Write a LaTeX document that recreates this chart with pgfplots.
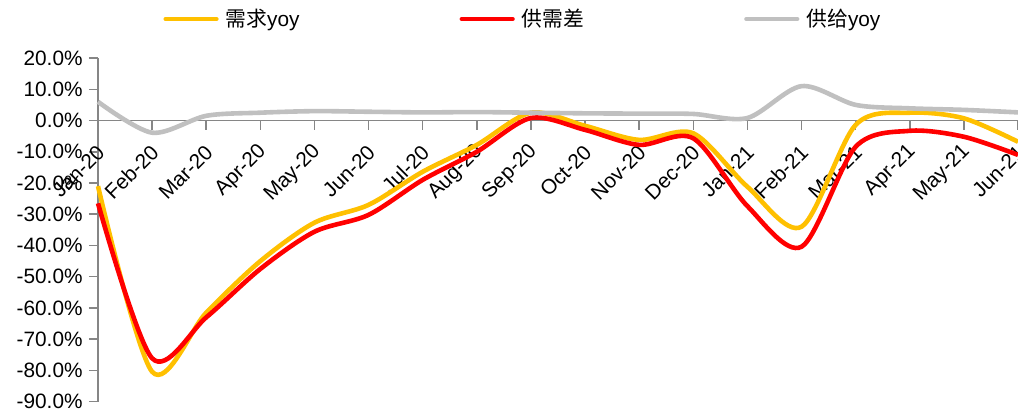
\documentclass[border=0pt]{standalone}
\usepackage{fontspec}
\setmainfont{Liberation Sans}
\newfontfamily\cjk{Noto Sans CJK SC}
\usepackage{pgfplots}
\pgfplotsset{compat=1.18}
\usepackage{pgfplotstable}

\definecolor{demand}{HTML}{FFC000}
\definecolor{gapred}{HTML}{FF0000}
\definecolor{supply}{HTML}{C0C0C0}
\definecolor{axisgray}{HTML}{868686}

% monthly year-on-year rates, in percent
\pgfplotstableread{
idx demand gap   supply
0   -21.0  -26.5  6.0
1   -80.4  -76.1 -3.9
2   -61.5  -63.0  1.5
3   -45.0  -47.5  2.5
4   -32.7  -35.6  3.0
5   -27.0  -30.2  2.8
6   -16.4  -19.0  2.6
7    -7.8  -10.0  2.7
8     2.5    0.8  2.5
9    -1.7   -3.0  2.3
10   -6.2   -7.8  2.2
11   -4.1   -5.7  2.1
12  -21.2  -27.4  0.8
13  -34.0  -40.4 11.0
14   -1.4   -8.4  5.0
15    2.5   -3.3  3.9
16    0.7   -5.2  3.4
17   -6.8  -11.0  2.6
}\monthly

\begin{document}
\begin{tikzpicture}[font=\fontsize{10.4}{12.5}\selectfont]
\begin{axis}[
  at={(0,0)}, anchor=south west,
  scale only axis, width=460pt, height=171.85pt,
  xmin=0, xmax=17, ymin=-90, ymax=20,
  axis x line*=middle, axis y line*=left,
  hide obscured x ticks=false, hide obscured y ticks=false,
  axis line style={draw=axisgray, line width=0.75pt},
  tick style={draw=axisgray, line width=0.75pt},
  tick align=outside, major tick length=4.5pt,
  xtick={0,...,17},
  xticklabels={Jan-20,Feb-20,Mar-20,Apr-20,May-20,Jun-20,Jul-20,Aug-20,Sep-20,Oct-20,Nov-20,Dec-20,Jan-21,Feb-21,Mar-21,Apr-21,May-21,Jun-21},
  ytick={-90,-80,...,20},
  yticklabels={-90.0\%,-80.0\%,-70.0\%,-60.0\%,-50.0\%,-40.0\%,-30.0\%,-20.0\%,-10.0\%,0.0\%,10.0\%,20.0\%},
  xticklabel style={xshift=1.5pt, yshift=-9.5pt, rotate=45, anchor=east, inner sep=0pt},
  yticklabel style={xshift=-3pt, inner sep=0pt},
  clip=false,
  legend style={at={(axis description cs:0.0707,1.1135)}, anchor=west,
    draw=none, fill=none, inner sep=0pt, legend columns=3,
    /tikz/every even column/.append style={column sep=80pt},
    /tikz/every odd column/.append style={column sep=3.5pt},
    nodes={inner sep=0pt, anchor=west}},
  legend image code/.code={\draw[#1, line cap=round] (1.1pt,0pt) -- (26.4pt,0pt);},
  every axis plot/.append style={line width=2.3pt, smooth, tension=0.5},
]
\addlegendimage{demand, line width=2.3pt}
\addlegendentry{{\cjk 需求}yoy}
\addlegendimage{gapred, line width=2.3pt}
\addlegendentry{{\cjk 供需差}}
\addlegendimage{supply, line width=2.3pt}
\addlegendentry{{\cjk 供给}yoy}

\addplot[demand, forget plot] table[x=idx, y=demand] {\monthly};
\addplot[gapred, forget plot] table[x=idx, y=gap] {\monthly};
\addplot[supply, forget plot] table[x=idx, y=supply] {\monthly};
\end{axis}
\pgfresetboundingbox
\path[use as bounding box] (-49pt,-3.65pt) rectangle (460pt,200.85pt);
\end{tikzpicture}
\end{document}
